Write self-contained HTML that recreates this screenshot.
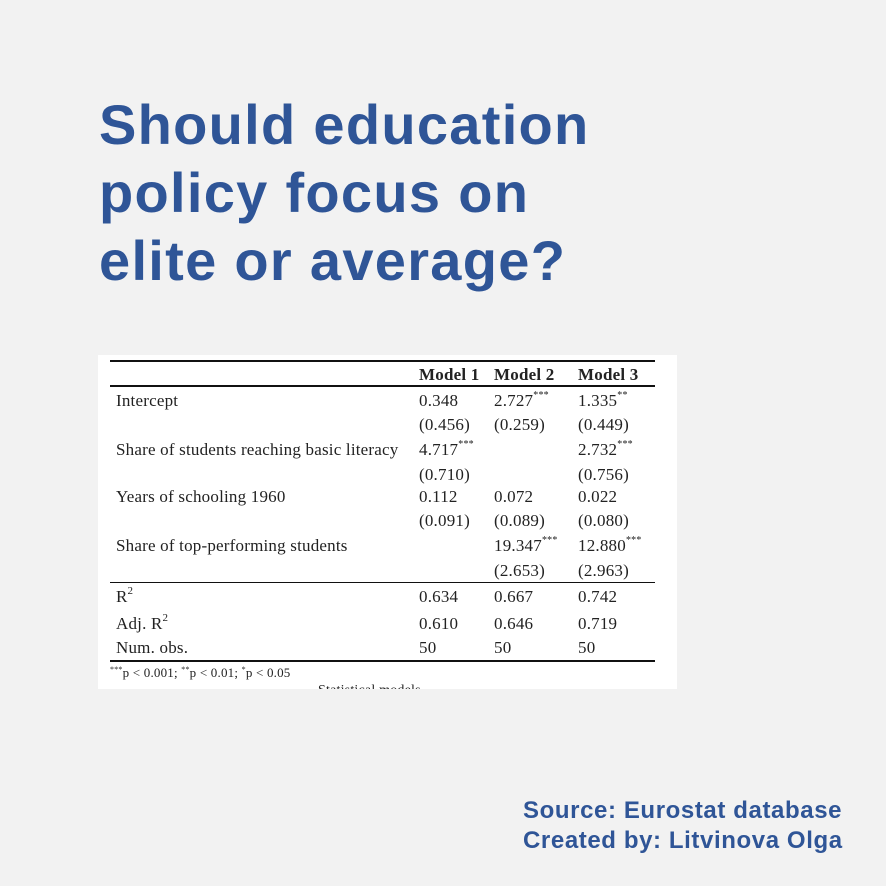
<!DOCTYPE html>
<html><head><meta charset="utf-8"><style>
body{margin:0;width:886px;height:886px;background:#f2f2f2;position:relative;overflow:hidden;font-family:"Liberation Sans",sans-serif}
.t{position:absolute;left:99px;color:#2f5597;font-weight:bold;font-size:56px;line-height:68px;top:91px;margin:0;letter-spacing:1.3px}
.box{position:absolute;left:98px;top:355px;width:579px;height:334px;background:#fff;overflow:hidden;font-family:"Liberation Serif",serif;font-size:17px;color:#222;letter-spacing:0.2px}
.r{position:absolute;height:2px;background:#111;left:12px;width:545px}
.c{position:absolute;white-space:nowrap;line-height:20px}
sup{font-size:10px;vertical-align:0;position:relative;top:-8px}
.src{position:absolute;left:523px;top:796px;color:#2f5597;font-weight:bold;font-size:24px;line-height:30px;letter-spacing:0.6px}
</style></head><body>
<h1 class="t">Should education<br>policy focus on<br>elite or average?</h1>
<div class="box">
<div class="r" style="top:5px"></div>
<div class="r" style="top:30px;height:1.5px"></div>
<div class="r" style="top:227px;height:1px"></div>
<div class="r" style="top:305px"></div>
<div id="cells"></div>
</div>
<div class="src">Source: Eurostat database<br>Created by: Litvinova Olga</div>
<script>
const rowsY=[20,46,70,95,120,142,166,191,216,242,269,293,319];
const colX=[18,321,396,480];
const cells=[
[0,1,'<b>Model 1</b>'],[0,2,'<b>Model 2</b>'],[0,3,'<b>Model 3</b>'],
[1,0,'Intercept'],[1,1,'0.348'],[1,2,'2.727<sup>***</sup>'],[1,3,'1.335<sup>**</sup>'],
[2,1,'(0.456)'],[2,2,'(0.259)'],[2,3,'(0.449)'],
[3,0,'Share of students reaching basic literacy'],[3,1,'4.717<sup>***</sup>'],[3,3,'2.732<sup>***</sup>'],
[4,1,'(0.710)'],[4,3,'(0.756)'],
[5,0,'Years of schooling 1960'],[5,1,'0.112'],[5,2,'0.072'],[5,3,'0.022'],
[6,1,'(0.091)'],[6,2,'(0.089)'],[6,3,'(0.080)'],
[7,0,'Share of top-performing students'],[7,2,'19.347<sup>***</sup>'],[7,3,'12.880<sup>***</sup>'],
[8,2,'(2.653)'],[8,3,'(2.963)'],
[9,0,'R<sup style="font-size:11px">2</sup>'],[9,1,'0.634'],[9,2,'0.667'],[9,3,'0.742'],
[10,0,'Adj. R<sup style="font-size:11px">2</sup>'],[10,1,'0.610'],[10,2,'0.646'],[10,3,'0.719'],
[11,0,'Num. obs.'],[11,1,'50'],[11,2,'50'],[11,3,'50']];
const box=document.getElementById('cells');
cells.forEach(([r,c,h])=>{const d=document.createElement('div');d.className='c';
d.style.left=colX[c]+'px';d.style.top=(rowsY[r]-10)+'px';d.innerHTML=h;


box.appendChild(d);});
const f=document.createElement('div');f.className='c';f.style.left='12px';f.style.top='308px';f.style.fontSize='13px';
f.innerHTML='<sup style="font-size:8px;top:-5px">***</sup>p &lt; 0.001; <sup style="font-size:8px;top:-5px">**</sup>p &lt; 0.01; <sup style="font-size:8px;top:-5px">*</sup>p &lt; 0.05';


box.appendChild(f);
const s=document.createElement('div');s.className='c';s.style.left='220px';s.style.top='326px';s.style.fontSize='14px';s.textContent='Statistical models';


box.appendChild(s);
</script>
</body></html>
